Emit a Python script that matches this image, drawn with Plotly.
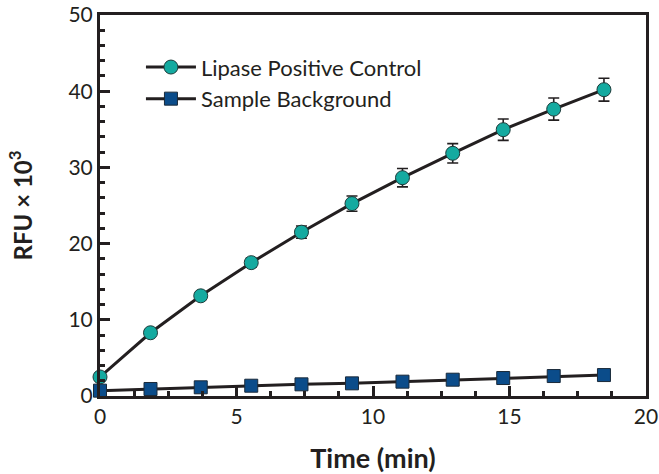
import plotly.graph_objects as go

time_min = [0, 1.85, 3.69, 5.54, 7.38, 9.23, 11.08, 12.92, 14.77, 16.62, 18.46]
lipase_rfu = [2.5, 8.3, 13.15, 17.5, 21.5, 25.25, 28.65, 31.85, 34.95, 37.65, 40.2]
lipase_err = [0.3, 0.4, 0.5, 0.6, 0.8, 1.0, 1.2, 1.27, 1.4, 1.45, 1.5]
background_rfu = [0.7, 0.92, 1.14, 1.35, 1.53, 1.66, 1.88, 2.14, 2.36, 2.62, 2.75]

FONT = "Lato, Open Sans, sans-serif"
LINE = "#231f20"

fig = go.Figure()
fig.add_trace(go.Scatter(
    x=time_min, y=lipase_rfu, name="Lipase Positive Control",
    mode="lines+markers", legendgroup="a",
    line=dict(color=LINE, width=3),
    marker=dict(symbol="circle", size=14, color="#14aaa0", line=dict(color="#1d3b3a", width=1)),
    error_y=dict(type="data", array=lipase_err, visible=True, color=LINE, thickness=1.6, width=5.5),
    cliponaxis=False,
))
fig.add_trace(go.Scatter(
    x=time_min, y=background_rfu, name="Sample Background",
    mode="lines+markers", legendgroup="b",
    line=dict(color=LINE, width=3),
    marker=dict(symbol="square", size=13, color="#0b4c8a", line=dict(color="#1a2a3a", width=1)),
    cliponaxis=False,
))

axis_common = dict(
    showline=True, linewidth=3, linecolor=LINE, mirror=True,
    ticks="inside", ticklen=10, tickwidth=3, tickcolor=LINE,
    showgrid=False, zeroline=False, automargin=False,
    ticklabeloverflow="allow",
    tickfont=dict(family=FONT, size=21, color="#231f20"),
)

fig.update_xaxes(
    range=[0, 20], tickvals=[0, 5, 10, 15, 20], **axis_common,
    minor=dict(ticks="inside", ticklen=5, tickwidth=3, tickcolor=LINE, dtick=1.25),
    title=dict(text="<b>Time (min)</b>", font=dict(family=FONT, size=27, color="#231f20"), standoff=29),
)
fig.update_yaxes(
    range=[0, 50], tickvals=[0, 10, 20, 30, 40, 50], **axis_common,
    minor=dict(ticks="inside", ticklen=5, tickwidth=3, tickcolor=LINE, dtick=2),
    title=dict(text="<b>RFU × 10<sup>3</sup></b>", font=dict(family=FONT, size=24, color="#231f20"), standoff=30),
)

fig.update_layout(
    width=659, height=474,
    margin=dict(l=100, r=13, t=15, b=78),
    plot_bgcolor="white", paper_bgcolor="white",
    font=dict(family=FONT, color="#231f20"),
    legend=dict(
        x=0.075, y=0.918, xanchor="left", yanchor="top",
        font=dict(family=FONT, size=22, color="#231f20"),
        bgcolor="rgba(0,0,0,0)", tracegroupgap=0, traceorder="grouped",
        itemwidth=50,
    ),
)

# remove the default page margin so the figure fills the window exactly
fig.write_html(
    "out.html",
    config={"displayModeBar": False},
    post_script="document.body.style.margin='0';document.body.style.overflow='hidden';",
)
